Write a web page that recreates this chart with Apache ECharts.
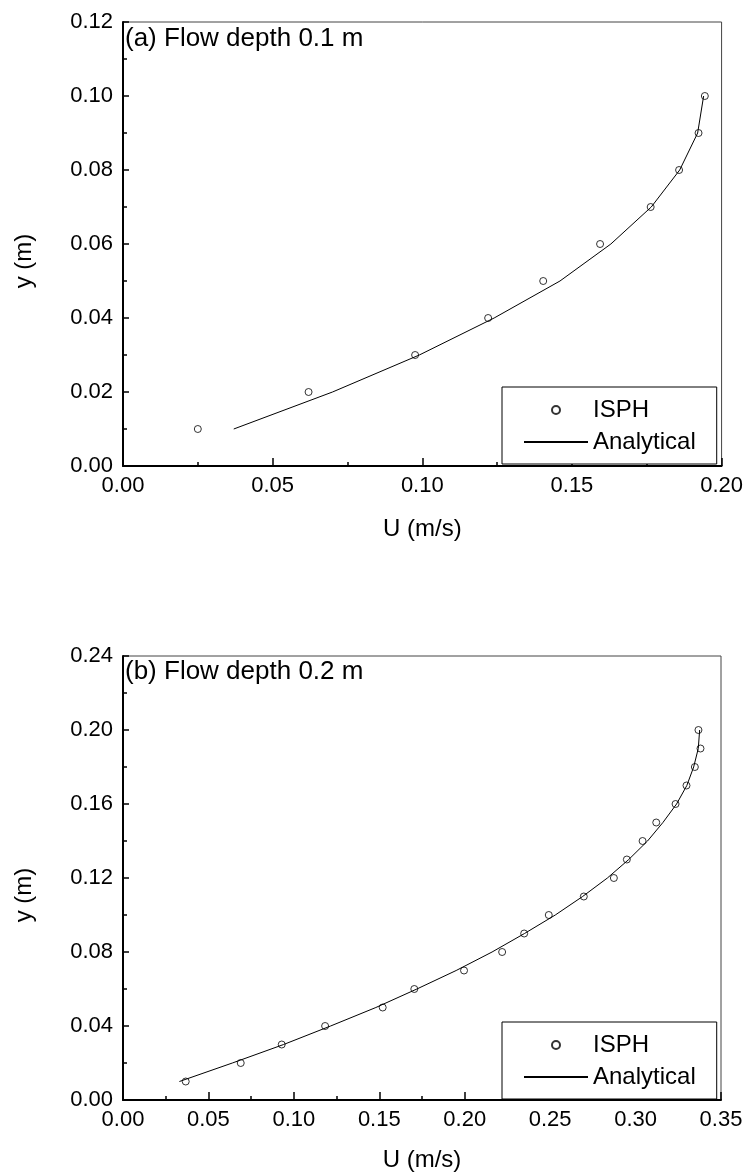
<!DOCTYPE html>
<html>
<head>
<meta charset="utf-8">
<script src="https://cdn.jsdelivr.net/npm/echarts@6/dist/echarts.min.js"></script>
<style>
html,body{margin:0;padding:0;background:#fff;}
#chart{width:746px;height:1176px;}
</style>
</head>
<body>
<div id="chart"></div>
<script>
// ---- Data ----
// Panel (a): flow depth 0.1 m
const yA = [0.01, 0.02, 0.03, 0.04, 0.05, 0.06, 0.07, 0.08, 0.09, 0.10];
const isphA_U = [0.025, 0.062, 0.0976, 0.122, 0.1404, 0.1594, 0.1763, 0.1858, 0.1923, 0.1944];
const anaA_U = [0.037, 0.070, 0.099, 0.124, 0.146, 0.163, 0.1765, 0.186, 0.192, 0.194];

// Panel (b): flow depth 0.2 m
const yB = [0.01, 0.02, 0.03, 0.04, 0.05, 0.06, 0.07, 0.08, 0.09, 0.10,
            0.11, 0.12, 0.13, 0.14, 0.15, 0.16, 0.17, 0.18, 0.19, 0.20];
const isphB_U = [0.0367, 0.0689, 0.0929, 0.1183, 0.152, 0.1705, 0.1996, 0.2219, 0.2348, 0.2492,
                 0.2697, 0.2873, 0.2949, 0.3041, 0.3121, 0.3234, 0.3298, 0.3347, 0.338, 0.3368];
const anaB_U = [0.033, 0.064, 0.094, 0.1215, 0.148, 0.172, 0.195, 0.216, 0.235, 0.253,
                0.269, 0.2835, 0.296, 0.307, 0.316, 0.324, 0.330, 0.334, 0.3367, 0.3375];

const titleA = '(a) Flow depth 0.1 m';
const titleB = '(b) Flow depth 0.2 m';
const xName = 'U (m/s)';
const yName = 'y (m)';
const nameISPH = 'ISPH';
const nameAna = 'Analytical';

const axisA = {xMax: 0.20, xInt: 0.05, yMax: 0.12, yInt: 0.02};
const axisB = {xMax: 0.35, xInt: 0.05, yMax: 0.24, yInt: 0.04};

// ---- Build ----
const FONT = "'Liberation Sans', Arial, Helvetica, sans-serif";
const pairs = (xs, ys) => xs.map((x, i) => [x, ys[i]]);
const fmt = v => Number(v).toFixed(2);

function xAxisCfg(gi, ax, gap) {
  return {
    type: 'value', gridIndex: gi, min: 0, max: ax.xMax, interval: ax.xInt,
    name: xName, nameLocation: 'middle', nameGap: gap,
    nameTextStyle: {fontFamily: FONT, fontSize: 24, color: '#000'},
    axisLine: {show: true, onZero: false, lineStyle: {color: '#000', width: 2}},
    axisTick: {show: true, inside: true, length: 8, lineStyle: {color: '#000', width: 1.5}},
    minorTick: {show: true, splitNumber: 2, length: 4, lineStyle: {color: '#000', width: 1.5}},
    axisLabel: {fontFamily: FONT, fontSize: 22, color: '#000', margin: 9, formatter: fmt},
    splitLine: {show: false}
  };
}
function yAxisCfg(gi, ax) {
  return {
    type: 'value', gridIndex: gi, min: 0, max: ax.yMax, interval: ax.yInt,
    name: yName, nameLocation: 'middle', nameGap: 87,
    nameTextStyle: {fontFamily: FONT, fontSize: 24, color: '#000', padding: [0, 34, 0, 0]},
    axisLine: {show: true, onZero: false, lineStyle: {color: '#000', width: 2}},
    axisTick: {show: true, inside: true, length: 6, lineStyle: {color: '#000', width: 1.5}},
    minorTick: {show: true, splitNumber: 2, length: 4, lineStyle: {color: '#000', width: 1.5}},
    axisLabel: {fontFamily: FONT, fontSize: 22, color: '#000', margin: 10, formatter: fmt},
    splitLine: {show: false}
  };
}
function legendCfg(top) {
  return {
    left: 502, top: top, orient: 'vertical',
    data: [nameISPH, nameAna],
    padding: [11, 21, 10, 21],
    borderColor: '#000', borderWidth: 1, backgroundColor: '#fff',
    itemWidth: 64, itemHeight: 8, itemGap: 8, itemTextGap: 8,
    selectedMode: false,
    textStyle: {fontFamily: FONT, fontSize: 24, color: '#000'}
  };
}
const scatterStyle = {color: '#fff', borderColor: '#000', borderWidth: 1};
const lineItemStyle = {color: 'rgba(0,0,0,0)', borderColor: 'rgba(0,0,0,0)', borderWidth: 0};

const option = {
  backgroundColor: '#fff',
  animation: false,
  title: [
    {text: titleA, left: 125, top: 26, padding: 0,
     textStyle: {fontFamily: FONT, fontSize: 26, fontWeight: 'normal', color: '#000'}},
    {text: titleB, left: 125, top: 659, padding: 0,
     textStyle: {fontFamily: FONT, fontSize: 26, fontWeight: 'normal', color: '#000'}}
  ],
  grid: [
    {left: 123, top: 22, width: 599, height: 444, show: true, borderColor: '#444', borderWidth: 1, backgroundColor: 'transparent'},
    {left: 123, top: 656, width: 598, height: 444, show: true, borderColor: '#444', borderWidth: 1, backgroundColor: 'transparent'}
  ],
  xAxis: [xAxisCfg(0, axisA, 51), xAxisCfg(1, axisB, 48)],
  yAxis: [yAxisCfg(0, axisA), yAxisCfg(1, axisB)],
  legend: [legendCfg(387), legendCfg(1022)],
  series: [
    {name: nameAna, type: 'line', xAxisIndex: 0, yAxisIndex: 0, data: pairs(anaA_U, yA),
     symbol: 'none', smooth: false, lineStyle: {color: '#000', width: 1}, itemStyle: lineItemStyle},
    {name: nameISPH, type: 'scatter', xAxisIndex: 0, yAxisIndex: 0, data: pairs(isphA_U, yA),
     symbol: 'circle', symbolSize: 7, itemStyle: scatterStyle},
    {name: nameAna, type: 'line', xAxisIndex: 1, yAxisIndex: 1, data: pairs(anaB_U, yB),
     symbol: 'none', smooth: false, lineStyle: {color: '#000', width: 1}, itemStyle: lineItemStyle},
    {name: nameISPH, type: 'scatter', xAxisIndex: 1, yAxisIndex: 1, data: pairs(isphB_U, yB),
     symbol: 'circle', symbolSize: 7, itemStyle: scatterStyle}
  ]
};

const chart = echarts.init(document.getElementById('chart'), null, {renderer: 'canvas'});
chart.setOption(option);
</script>
</body>
</html>
